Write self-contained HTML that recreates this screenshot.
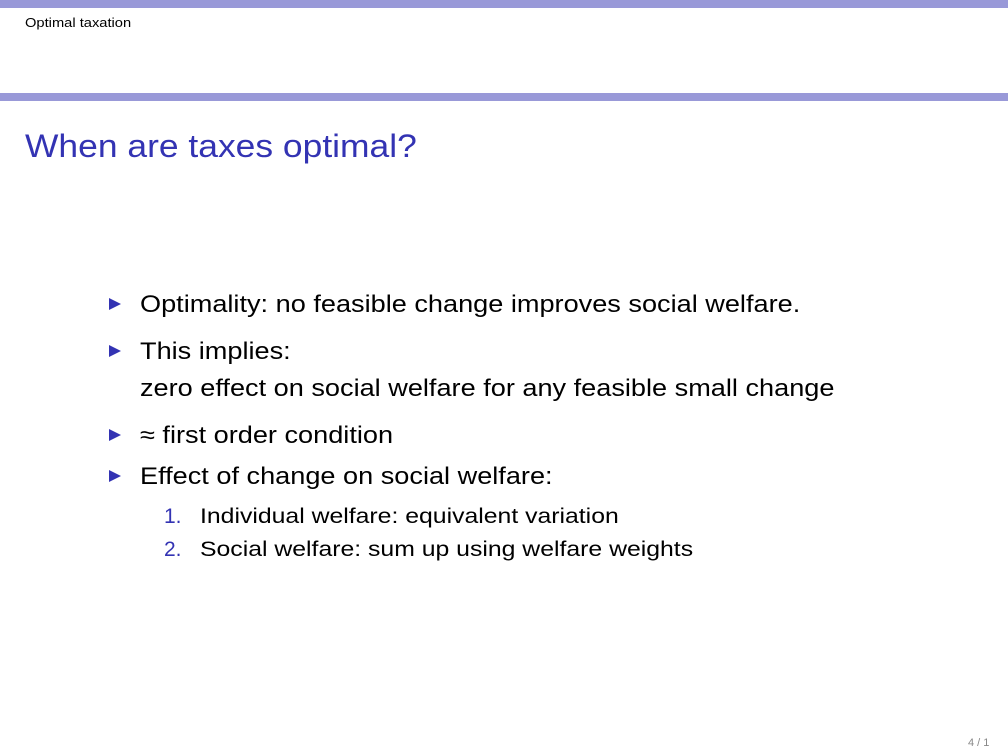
<!DOCTYPE html>
<html><head><meta charset="utf-8"><style>
body{margin:0;width:1008px;height:756px;background:#fff;position:relative;overflow:hidden;font-family:"Liberation Sans",sans-serif;}
.a{position:absolute;white-space:nowrap;transform-origin:0 0;}
.m{transform:scaleX(1.13);}
.s{transform:scaleX(1.18);}
.tri{position:absolute;width:0;height:0;border-top:6px solid transparent;border-bottom:6px solid transparent;border-left:12px solid #3333b3;}
</style></head><body>
<div class="a" style="left:0;top:0;width:1008px;height:8px;background:#9999d8"></div>
<div class="a m" style="left:25px;top:15px;font-size:13px;color:#000">Optimal taxation</div>
<div class="a" style="left:0;top:93px;width:1008px;height:8px;background:#9999d8"></div>
<div class="a" style="left:25px;top:128px;font-size:32px;color:#3333b3;transform:scaleX(1.107)">When are taxes optimal?</div>

<div class="tri" style="left:109px;top:298px"></div>
<div class="a m" style="left:140px;top:291px;font-size:24px">Optimality: no feasible change improves social welfare.</div>
<div class="tri" style="left:109px;top:345px"></div>
<div class="a m" style="left:140px;top:338px;font-size:24px">This implies:</div>
<div class="a m" style="left:140px;top:375px;font-size:24px">zero effect on social welfare for any feasible small change</div>
<div class="tri" style="left:109px;top:429px"></div>
<div class="a m" style="left:140px;top:422px;font-size:24px">≈ first order condition</div>
<div class="tri" style="left:109px;top:470px"></div>
<div class="a m" style="left:140px;top:463px;font-size:24px">Effect of change on social welfare:</div>
<div class="a" style="left:164px;top:505px;font-size:21px;color:#3333b3">1.</div>
<div class="a s" style="left:200px;top:505px;font-size:21px">Individual welfare: equivalent variation</div>
<div class="a" style="left:164px;top:538px;font-size:21px;color:#3333b3">2.</div>
<div class="a s" style="left:200px;top:538px;font-size:21px">Social welfare: sum up using welfare weights</div>

<div class="a" style="left:968px;top:737px;font-size:11px;color:#888">4 / 1</div>
</body></html>
